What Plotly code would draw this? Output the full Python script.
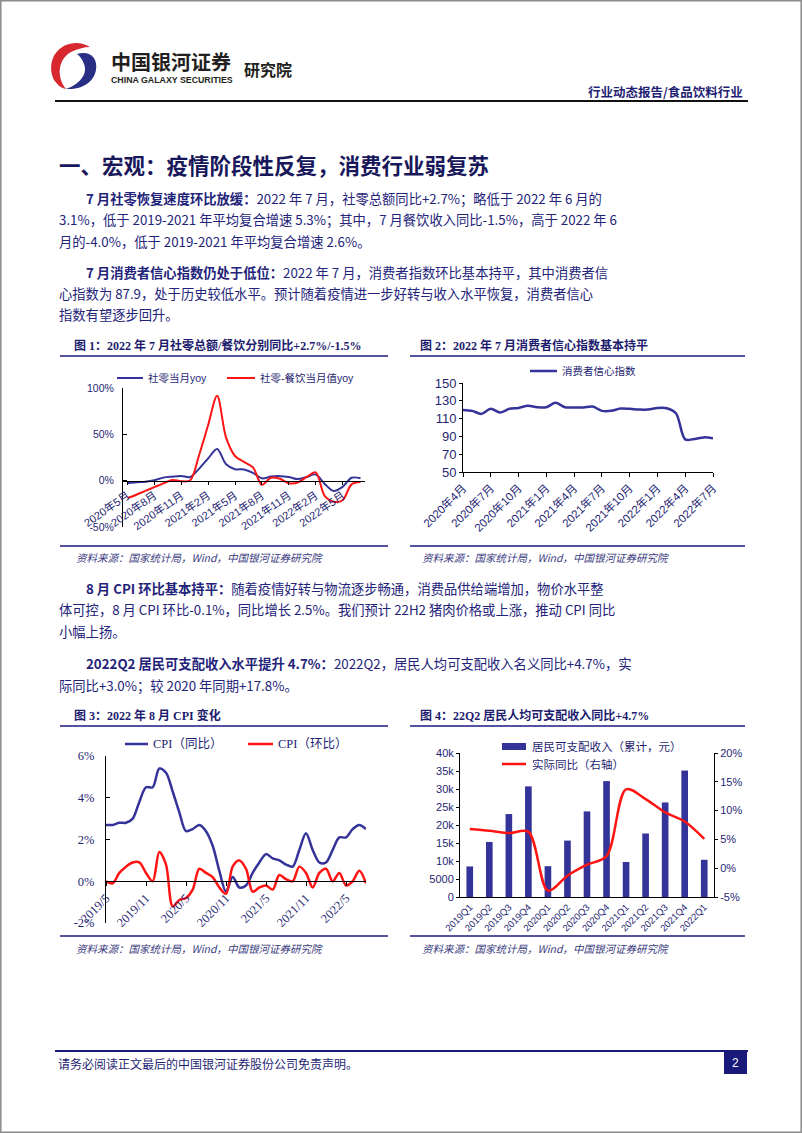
import plotly.graph_objects as go

W, H = 802, 1133


def X(x):
    return x / W


def Y(y):
    return 1 - y / H


NAVY = "#1f1f73"
TXT = "#23237a"
BLUE = "#333399"
RED = "#FF1414"
CJK = "Noto Sans CJK SC"
SANS = "Liberation Sans, Noto Sans CJK SC"
SERIF = "Liberation Serif, Noto Sans CJK SC"

# ---------------- data ----------------
# Chart 1: retail sales yoy (%)
months_1 = ["2020年5月", "2020年6月", "2020年7月", "2020年8月", "2020年9月", "2020年10月",
            "2020年11月", "2020年12月", "2021年1月", "2021年2月", "2021年3月", "2021年4月",
            "2021年5月", "2021年6月", "2021年7月", "2021年8月", "2021年9月", "2021年10月",
            "2021年11月", "2021年12月", "2022年1月", "2022年2月", "2022年3月", "2022年4月",
            "2022年5月", "2022年6月", "2022年7月"]
retail_yoy = [-2.8, -1.8, -1.1, 0.5, 3.3, 4.3, 5.0, 4.0, 13.0, 24.0, 34.2, 17.7,
              12.4, 12.1, 8.5, 2.5, 4.4, 4.9, 3.9, 1.7, 4.0, 6.7, -3.5, -11.1,
              -6.7, 3.1, 2.7]
catering_yoy = [-18.9, -15.2, -11.0, -7.0, -2.9, 0.8, -0.6, 0.4, 28.0, 60.0, 91.6, 46.4,
                26.6, 20.2, 14.3, -4.5, 3.1, 2.0, -2.7, -2.0, 4.0, 8.9, -16.4, -22.7,
                -21.1, -4.0, -1.5]
ticks_1 = ["2020年5月", "2020年8月", "2020年11月", "2021年2月", "2021年5月",
           "2021年8月", "2021年11月", "2022年2月", "2022年5月"]
yticks_1 = [-50, 0, 50, 100]

# Chart 2: consumer confidence index
months_2 = ["2020年4月", "2020年5月", "2020年6月", "2020年7月", "2020年8月", "2020年9月",
            "2020年10月", "2020年11月", "2020年12月", "2021年1月", "2021年2月", "2021年3月",
            "2021年4月", "2021年5月", "2021年6月", "2021年7月", "2021年8月", "2021年9月",
            "2021年10月", "2021年11月", "2021年12月", "2022年1月", "2022年2月", "2022年3月",
            "2022年4月", "2022年5月", "2022年6月", "2022年7月"]
cci = [119.8, 118.7, 115.3, 121.0, 116.8, 121.0, 122.0, 124.3, 122.8, 122.8, 127.7, 122.8,
       122.5, 122.5, 123.6, 118.7, 118.7, 121.3, 121.0, 120.2, 120.2, 122.0, 121.7, 116.0,
       86.7, 87.2, 88.9, 87.9]
ticks_2 = ["2020年4月", "2020年7月", "2020年10月", "2021年1月", "2021年4月",
           "2021年7月", "2021年10月", "2022年1月", "2022年4月", "2022年7月"]
yticks_2 = [50, 70, 90, 110, 130, 150]

# Chart 3: CPI yoy / mom (%)
months_3 = ["2019/5", "2019/6", "2019/7", "2019/8", "2019/9", "2019/10", "2019/11", "2019/12",
            "2020/1", "2020/2", "2020/3", "2020/4", "2020/5", "2020/6", "2020/7", "2020/8",
            "2020/9", "2020/10", "2020/11", "2020/12", "2021/1", "2021/2", "2021/3", "2021/4",
            "2021/5", "2021/6", "2021/7", "2021/8", "2021/9", "2021/10", "2021/11", "2021/12",
            "2022/1", "2022/2", "2022/3", "2022/4", "2022/5", "2022/6", "2022/7", "2022/8"]
cpi_yoy = [2.7, 2.7, 2.8, 2.8, 3.0, 3.8, 4.5, 4.5,
           5.4, 5.2, 4.3, 3.3, 2.4, 2.5, 2.7, 2.4, 1.7, 0.5, -0.5, 0.2,
           -0.3, -0.2, 0.4, 0.9, 1.3, 1.1, 1.0, 0.8, 0.7, 1.5, 2.3, 1.5,
           0.9, 0.9, 1.5, 2.1, 2.1, 2.5, 2.7, 2.5]
cpi_mom = [0.0, -0.1, 0.4, 0.7, 0.9, 0.9, 0.4, 0.0,
           1.4, 0.8, -1.2, -0.9, -0.8, -0.4, 0.6, 0.4, 0.2, -0.3, -0.6, 0.7,
           1.0, 0.6, -0.5, -0.3, -0.2, -0.4, 0.3, 0.1, 0.0, 0.7, 0.4, -0.3,
           0.4, 0.6, 0.0, 0.4, -0.2, 0.0, 0.5, -0.1]
ticks_3 = ["2019/5", "2019/11", "2020/5", "2020/11", "2021/5", "2021/11", "2022/5"]
yticks_3 = [-2, 0, 2, 4, 6]

# Chart 4: disposable income
quarters_4 = ["2019Q1", "2019Q2", "2019Q3", "2019Q4", "2020Q1", "2020Q2", "2020Q3",
              "2020Q4", "2021Q1", "2021Q2", "2021Q3", "2021Q4", "2022Q1"]
income_cum = [8493, 15294, 23035, 30733, 8561, 15666, 23781, 32189, 9730, 17642, 26265,
              35128, 10345]
income_real_yoy = [6.8, 6.5, 6.1, 6.3, -3.9, -1.3, 0.6, 2.1, 13.7, 12.0, 9.7, 8.1, 5.1]
yticks_4 = [0, 5000, 10000, 15000, 20000, 25000, 30000, 35000, 40000]
yticks_5 = [-5, 0, 5, 10, 15, 20]

# ---------------- figure ----------------
fig = go.Figure()

fig.add_trace(go.Scatter(x=months_1, y=retail_yoy, mode="lines", xaxis="x", yaxis="y",
                         line=dict(color=BLUE, width=2, shape="spline", smoothing=0.9)))
fig.add_trace(go.Scatter(x=months_1, y=catering_yoy, mode="lines", xaxis="x", yaxis="y",
                         line=dict(color=RED, width=2, shape="spline", smoothing=0.9)))

fig.add_trace(go.Scatter(x=months_2, y=cci, mode="lines", xaxis="x2", yaxis="y2",
                         line=dict(color=BLUE, width=2.5, shape="spline", smoothing=0.9)))

fig.add_trace(go.Scatter(x=months_3, y=cpi_yoy, mode="lines", xaxis="x3", yaxis="y3",
                         line=dict(color=BLUE, width=2.5, shape="spline", smoothing=0.9)))
fig.add_trace(go.Scatter(x=months_3, y=cpi_mom, mode="lines", xaxis="x3", yaxis="y3",
                         line=dict(color=RED, width=2.5, shape="spline", smoothing=0.9)))

fig.add_trace(go.Bar(x=quarters_4, y=income_cum, xaxis="x4", yaxis="y4",
                     marker=dict(color=BLUE, line=dict(width=0)), width=0.34))
fig.add_trace(go.Scatter(x=quarters_4, y=income_real_yoy, mode="lines", xaxis="x4", yaxis="y5",
                         line=dict(color=RED, width=2.5, shape="spline", smoothing=0.9)))

axis_common = dict(showgrid=False, zeroline=False, automargin=False, showline=True,
                   linecolor="black", linewidth=1, ticks="outside", ticklen=3,
                   tickcolor="black", fixedrange=True)

fig.update_layout(
    width=W, height=H, margin=dict(l=0, r=0, t=0, b=0),
    template="none", paper_bgcolor="white", plot_bgcolor="rgba(0,0,0,0)",
    showlegend=False, font=dict(family=CJK, color=NAVY),
    # chart 1
    xaxis=dict(axis_common, type="category", domain=[X(123), X(365)], range=[-0.5, 26.5],
               anchor="free", position=Y(481), tickmode="array", tickvals=ticks_1,
               ticktext=ticks_1, tickangle=-35,
               tickfont=dict(family=SANS, size=11, color=NAVY)),
    yaxis=dict(axis_common, domain=[Y(527), Y(388)], range=[-50, 100], anchor="x",
               tickmode="array", tickvals=yticks_1, ticktext=[f"{v}%" for v in yticks_1],
               ticks="inside", ticklen=4, ticklabelstandoff=6,
               tickfont=dict(family=SANS, size=10.5, color=NAVY)),
    # chart 2
    xaxis2=dict(axis_common, type="category", domain=[X(463), X(713)], range=[0, 27],
                anchor="y2", tickmode="array", tickvals=ticks_2, ticktext=ticks_2,
                tickangle=-45, ticklen=4,
                tickfont=dict(family=SANS, size=11.5, color=NAVY)),
    yaxis2=dict(axis_common, domain=[Y(472), Y(383)], range=[50, 150], anchor="x2",
                tickmode="array", tickvals=yticks_2, ticklen=3,
                tickfont=dict(family=SANS, size=13, color=NAVY)),
    # chart 3
    xaxis3=dict(axis_common, type="category", domain=[X(106), X(366)], range=[0, 39],
                anchor="free", position=Y(881), tickmode="array", tickvals=ticks_3,
                ticktext=ticks_3, tickangle=-45, ticklen=4,
                tickfont=dict(family=SERIF, size=12.5, color=NAVY)),
    yaxis3=dict(axis_common, domain=[Y(923), Y(756)], range=[-2, 6], anchor="x3",
                tickmode="array", tickvals=yticks_3, ticktext=[f"{v}%" for v in yticks_3],
                ticks="inside", ticklen=4, ticklabelstandoff=8,
                tickfont=dict(family=SERIF, size=12.5, color=NAVY)),
    # chart 4
    xaxis4=dict(axis_common, type="category", domain=[X(460), X(714)], range=[-0.5, 12.5],
                anchor="y4", tickmode="array", tickvals=quarters_4, ticktext=quarters_4,
                tickangle=-45, ticks="", tickfont=dict(family=SANS, size=9.5, color=NAVY)),
    yaxis4=dict(axis_common, domain=[Y(897), Y(753)], range=[0, 40000], anchor="x4",
                tickmode="array", tickvals=yticks_4, ticklen=3,
                tickfont=dict(family=SANS, size=11, color=NAVY)),
    yaxis5=dict(axis_common, overlaying="y4", side="right", range=[-5, 20], anchor="x4",
                tickmode="array", tickvals=yticks_5, ticktext=[f"{v}%" for v in yticks_5],
                ticklen=3, tickfont=dict(family=SANS, size=11, color=NAVY)),
)

shapes = []
annotations = []


def hline(x0, x1, y, color, width):
    shapes.append(dict(type="line", xref="paper", yref="paper", x0=X(x0), x1=X(x1),
                       y0=Y(y), y1=Y(y), line=dict(color=color, width=width)))


def rect(x0, y0, x1, y1, fill, line_color=None, lw=0):
    shapes.append(dict(type="rect", xref="paper", yref="paper", x0=X(x0), x1=X(x1),
                       y0=Y(y0), y1=Y(y1), fillcolor=fill,
                       line=dict(color=line_color or fill, width=lw)))


def text(x, y, s, size, color=TXT, family=CJK, anchor="left"):
    annotations.append(dict(xref="paper", yref="paper", x=X(x), y=Y(y), text=s,
                            showarrow=False, xanchor=anchor, yanchor="middle",
                            font=dict(family=family, size=size, color=color)))


def path(cmds, color):
    parts = []
    for c in cmds:
        op, pts = c[0], c[1:]
        coords = " ".join(f"{X(pts[i]):.5f},{Y(pts[i + 1]):.5f}" for i in range(0, len(pts), 2))
        parts.append(op + " " + coords if coords else op)
    shapes.append(dict(type="path", xref="paper", yref="paper", path=" ".join(parts),
                       fillcolor=color, line=dict(width=0)))


# page border
shapes.append(dict(type="rect", xref="paper", yref="paper", x0=X(0.8), x1=X(801.2),
                   y0=Y(0.8), y1=Y(1132.2), line=dict(color="#8a8a8a", width=1.5)))

# logo
path([("M", 90, 47), ("C", 70, 35, 44, 52, 53, 78), ("C", 56, 84, 61, 88, 66, 89),
      ("C", 57, 78, 57, 60, 71, 52), ("C", 77, 49, 84, 47, 90, 47), ("Z",)], "#d7282f")
path([("M", 77, 54), ("C", 90, 50, 98, 58, 96, 70), ("C", 94, 82, 82, 90, 66, 89),
      ("C", 80, 84, 88, 74, 84, 64), ("C", 82, 59, 80, 56, 77, 54), ("Z",)], "#2a2f86")
text(109, 61, "<b>中国银河证券</b>", 20, "#231f20")
text(109, 80, "<b>CHINA GALAXY SECURITIES</b>", 8.8, "#231f20", "Liberation Sans")
text(242, 69, "<b>研究院</b>", 16, "#231f20")
text(745, 91, "<b>行业动态报告/食品饮料行业</b>", 12.5, NAVY, anchor="right")
hline(55, 748, 101, "#111111", 2)

# section title
text(57, 165, "<b>一、宏观：疫情阶段性反复，消费行业弱复苏</b>", 21.5, "#17175a")

# paragraphs
BS = 13.3
text(84, 198, "<b>7 月社零恢复速度环比放缓：</b>2022 年 7 月，社零总额同比+2.7%；略低于 2022 年 6 月的", BS)
text(57, 219.5, "3.1%，低于 2019-2021 年平均复合增速 5.3%；其中，7 月餐饮收入同比-1.5%，高于 2022 年 6", BS)
text(57, 241, "月的-4.0%，低于 2019-2021 年平均复合增速 2.6%。", BS)

text(84, 272, "<b>7 月消费者信心指数仍处于低位：</b>2022 年 7 月，消费者指数环比基本持平，其中消费者信", BS)
text(57, 293.5, "心指数为 87.9，处于历史较低水平。预计随着疫情进一步好转与收入水平恢复，消费者信心", BS)
text(57, 315, "指数有望逐步回升。", BS)

text(84, 588, "<b>8 月 CPI 环比基本持平：</b>随着疫情好转与物流逐步畅通，消费品供给端增加，物价水平整", BS)
text(57, 609.5, "体可控，8 月 CPI 环比-0.1%，同比增长 2.5%。我们预计 22H2 猪肉价格或上涨，推动 CPI 同比", BS)
text(57, 631, "小幅上扬。", BS)

text(84, 663, "<b>2022Q2 居民可支配收入水平提升 4.7%：</b>2022Q2，居民人均可支配收入名义同比+4.7%，实", BS)
text(57, 685, "际同比+3.0%；较 2020 年同期+17.8%。", BS)

# chart frames: titles, rules, sources
RULE = "#1a1a80"
TS = 12
TF = "Liberation Serif, Noto Sans CJK SC"
SRC = "<i>资料来源：国家统计局，Wind，中国银河证券研究院</i>"
for (x0, x1, tx, ty, title) in [
    (60, 388, 72, 345, "<b>图 1：2022 年 7 月社零总额/餐饮分别同比+2.7%/-1.5%</b>"),
    (410, 745, 418, 345, "<b>图 2：2022 年 7 月消费者信心指数基本持平</b>"),
    (60, 388, 72, 715, "<b>图 3：2022 年 8 月 CPI 变化</b>"),
    (410, 745, 418, 715, "<b>图 4：22Q2 居民人均可支配收入同比+4.7%</b>"),
]:
    text(tx, ty, title, TS, "#1c1c6e", TF)
    hline(x0, x1, ty + 11, RULE, 1.6)
    hline(x0, x1, ty + 201 if ty == 345 else ty + 221, RULE, 1.6)
    text(tx + 2, ty + 212 if ty == 345 else ty + 233, SRC, 10.5, "#3a3a80")

# legends (manual)
LS = 10.5
hline(117, 143, 378, BLUE, 2)
text(146, 378, "社零当月yoy", LS, NAVY, SANS)
hline(227, 255, 378, RED, 2)
text(258, 378, "社零-餐饮当月值yoy", LS, NAVY, SANS)

hline(530, 557, 371, BLUE, 2.5)
text(560, 371, "消费者信心指数", LS, NAVY, SANS)

hline(125, 148, 744, BLUE, 2.5)
text(151, 744, "CPI（同比）", 12.5, NAVY, SERIF)
hline(248, 273, 744, RED, 2.5)
text(276, 744, "CPI（环比）", 12.5, NAVY, SERIF)

rect(502, 743, 526, 750, BLUE)
text(530, 746, "居民可支配收入（累计，元）", 11.5, NAVY)
hline(502, 526, 764, RED, 2.5)
text(530, 764, "实际同比（右轴）", 11.5, NAVY)

# footer
hline(55, 748, 1051, "#1a1a7a", 2)
text(56, 1063, "请务必阅读正文最后的中国银河证券股份公司免责声明。", 12, NAVY)
rect(724, 1051, 747, 1074, "#1a1a7a")
text(735.5, 1062.5, "2", 12, "white", "Liberation Sans", anchor="center")

fig.update_layout(shapes=shapes, annotations=annotations)

fig.write_html("out.html", config={"displayModeBar": False, "staticPlot": True},
               post_script="document.body.style.margin='0';document.body.style.overflow='hidden';")
